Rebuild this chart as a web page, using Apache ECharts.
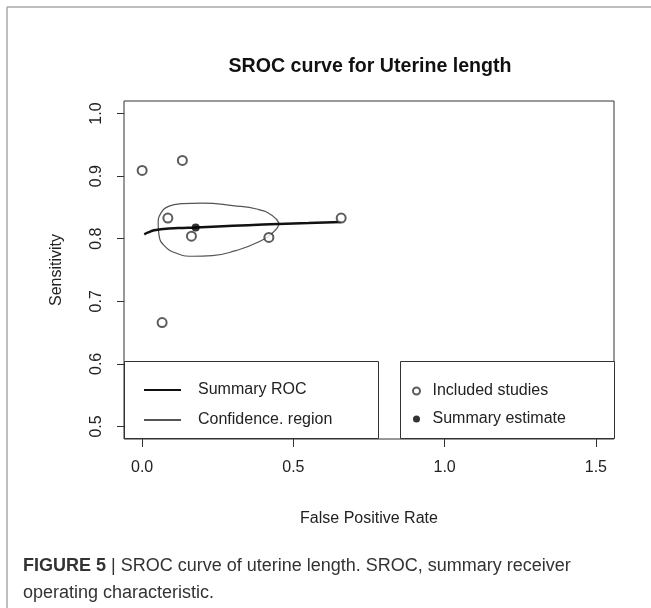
<!DOCTYPE html>
<html lang="en">
<head>
    <meta charset="UTF-8">
    <title>SROC curve for Uterine length</title>
    <script src="https://cdn.jsdelivr.net/npm/echarts@6/dist/echarts.min.js"></script>
</head>
<body style="margin:0;background:#fff;">
    <div id="chart1" style="width:651px;height:608px;"></div>
    <script>
        var font = "'Liberation Sans', Arial, Helvetica, sans-serif"
        // studies (false positive rate, sensitivity)
        var studyFpr = [0.0, 0.133, 0.085, 0.163, 0.419, 0.658, 0.066]
        var studySens = [0.909, 0.925, 0.833, 0.804, 0.802, 0.833, 0.666]
        var summaryPoint = [0.177, 0.818]
        // summary ROC curve
        var srocFpr = [0.007, 0.02, 0.04, 0.07, 0.12, 0.177, 0.25, 0.35, 0.45, 0.55, 0.658]
        var srocSens = [0.807, 0.810, 0.8135, 0.8155, 0.817, 0.818, 0.8195, 0.8215, 0.8235, 0.825, 0.8266]
        // confidence region outline (closed, starts at the right tip)
        var confFpr = [0.454, 0.430, 0.3825, 0.30, 0.199, 0.133, 0.089, 0.061, 0.053, 0.056, 0.073, 0.112, 0.166, 0.232, 0.309, 0.386, 0.435, 0.454]
        var confSens = [0.824, 0.837, 0.847, 0.853, 0.857, 0.856, 0.852, 0.840, 0.824, 0.805, 0.789, 0.777, 0.772, 0.773, 0.781, 0.795, 0.811, 0.824]
        var xTicks = [0, 0.5, 1.0, 1.5]
        var yTicks = [0.5, 0.6, 0.7, 0.8, 0.9, 1.0]

        function pairs(xs, ys){
            return xs.map(function(x, i){ return [x, ys[i]] })
        }

        var myCharts = echarts.init(document.getElementById("chart1"))
        var option = {
            animation: false,
            backgroundColor: "#fff",
            title: {
                text: "SROC curve for Uterine length",
                left: 365,
                top: 52,
                textAlign: "center",
                textStyle: {fontFamily: font, fontSize: 19.6, fontWeight: "bold", color: "#111"}
            },
            grid: {
                left: 124, right: 37, top: 101, bottom: 169,
                show: true, borderColor: "#333", borderWidth: 1, backgroundColor: "transparent"
            },
            legend: [
                {
                    data: ["Summary ROC", "Confidence. region"],
                    orient: "vertical",
                    left: 143, top: 382,
                    padding: 0,
                    itemWidth: 37, itemHeight: 14, itemGap: 14,
                    selectedMode: false,
                    itemStyle: {opacity: 0},
                    textStyle: {fontFamily: font, fontSize: 16, color: "#222", padding: [0, 0, 0, 12]}
                },
                {
                    data: ["Included studies", "Summary estimate"],
                    orient: "vertical",
                    left: 412, top: 383,
                    padding: 0,
                    itemWidth: 8, itemHeight: 7, itemGap: 12,
                    selectedMode: false,
                    textStyle: {fontFamily: font, fontSize: 16, color: "#222", padding: [0, 0, 0, 7]}
                }
            ],
            xAxis: {
                type: "value",
                min: -0.06, max: 1.56,
                name: "False Positive Rate",
                nameLocation: "middle",
                nameGap: 72,
                nameTextStyle: {fontFamily: font, fontSize: 16, color: "#222"},
                axisLine: {show: false, onZero: false},
                splitLine: {show: false},
                axisTick: {show: true, length: 8, customValues: xTicks, lineStyle: {color: "#333"}},
                axisLabel: {
                    customValues: xTicks, margin: 21,
                    fontFamily: font, fontSize: 16, color: "#222",
                    formatter: function(v){ return v.toFixed(1) }
                }
            },
            yAxis: {
                type: "value",
                min: 0.48, max: 1.02,
                name: "Sensitivity",
                nameLocation: "middle",
                nameRotate: 90,
                nameGap: 59,
                nameTextStyle: {fontFamily: font, fontSize: 16, color: "#222"},
                axisLine: {show: false, onZero: false},
                splitLine: {show: false},
                axisTick: {show: true, length: 7, customValues: yTicks, lineStyle: {color: "#333"}},
                axisLabel: {
                    customValues: yTicks, margin: 19, rotate: 90,
                    fontFamily: font, fontSize: 16, color: "#222",
                    formatter: function(v){ return v.toFixed(1) }
                }
            },
            graphic: [
                {type: "line", shape: {x1: 7, y1: 7, x2: 651, y2: 7}, style: {stroke: "#a8a8a8", lineWidth: 1.5}, silent: true},
                {type: "line", shape: {x1: 7, y1: 7, x2: 7, y2: 608}, style: {stroke: "#a8a8a8", lineWidth: 1.5}, silent: true},
                {type: "rect", shape: {x: 124.5, y: 361.5, width: 254, height: 77}, style: {fill: "#fff", stroke: "#333", lineWidth: 1}, silent: true, z: 0},
                {type: "rect", shape: {x: 400.5, y: 361.5, width: 214, height: 77}, style: {fill: "#fff", stroke: "#333", lineWidth: 1}, silent: true, z: 0},
                {
                    type: "text", left: 23, top: 557, silent: true,
                    style: {
                        text: "{b|FIGURE 5} {bar||} SROC curve of uterine length. SROC, summary receiver",
                        fontFamily: font, fontSize: 18, fill: "#333",
                        rich: {
                            b: {fontFamily: font, fontSize: 18, fontWeight: "bold", color: "#222"},
                            bar: {fontFamily: font, fontSize: 18, color: "#999"}
                        }
                    }
                },
                {
                    type: "text", left: 23, top: 584, silent: true,
                    style: {text: "operating characteristic.", fontFamily: font, fontSize: 18, fill: "#333"}
                }
            ],
            series: [
                {
                    name: "Summary ROC",
                    type: "line",
                    data: pairs(srocFpr, srocSens),
                    smooth: true,
                    symbol: "none",
                    z: 4,
                    lineStyle: {color: "#111", width: 2.5},
                    itemStyle: {color: "#111"}
                },
                {
                    name: "Confidence. region",
                    type: "line",
                    data: pairs(confFpr, confSens),
                    smooth: 0.5,
                    symbol: "none",
                    z: 3,
                    lineStyle: {color: "#555", width: 1.2},
                    itemStyle: {color: "#555"}
                },
                {
                    name: "Included studies",
                    type: "scatter",
                    data: pairs(studyFpr, studySens),
                    symbol: "emptyCircle",
                    symbolSize: 9,
                    z: 5,
                    itemStyle: {color: "#333", borderWidth: 1}
                },
                {
                    name: "Summary estimate",
                    type: "scatter",
                    data: [summaryPoint],
                    symbol: "circle",
                    symbolSize: 8,
                    z: 6,
                    itemStyle: {color: "#000"}
                }
            ]
        }
        myCharts.setOption(option)
    </script>
</body>
</html>
